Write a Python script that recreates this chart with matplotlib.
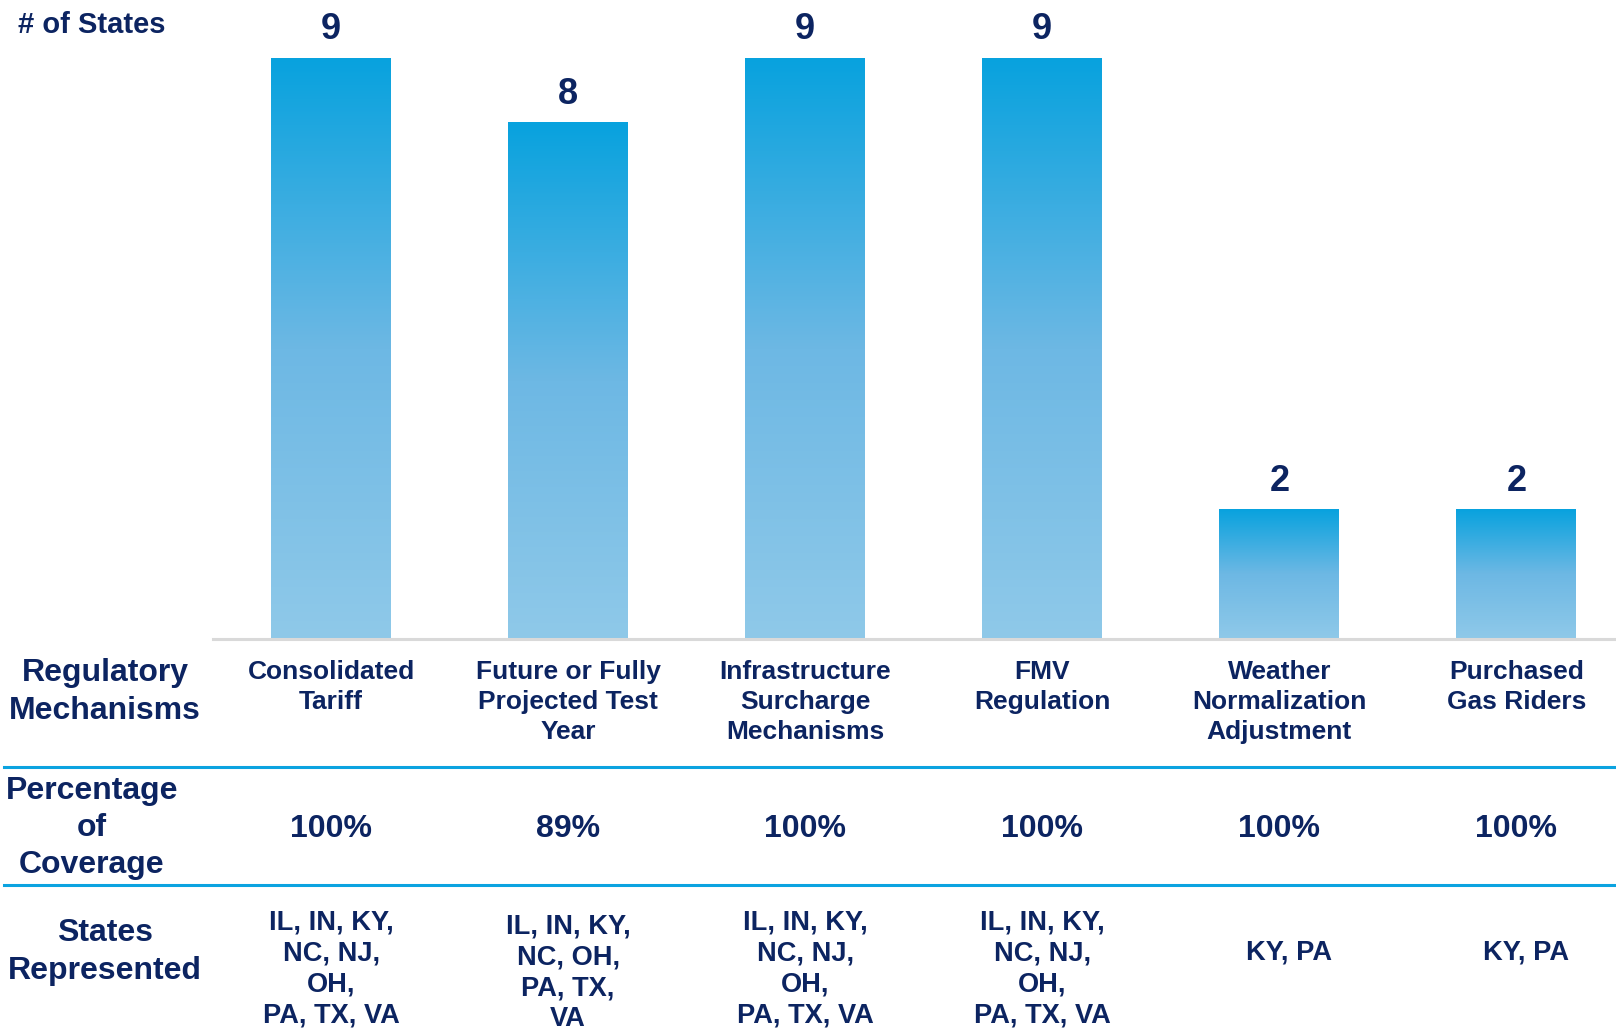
import numpy as np
import matplotlib
matplotlib.use("Agg")
import matplotlib.pyplot as plt
from matplotlib.colors import LinearSegmentedColormap
from matplotlib.lines import Line2D
from matplotlib.transforms import blended_transform_factory

plt.rcParams['font.family'] = ['Liberation Sans', 'DejaVu Sans']
plt.rcParams['font.weight'] = 'bold'

# data
mechanisms = ["Consolidated\nTariff", "Future or Fully\nProjected Test\nYear",
              "Infrastructure\nSurcharge\nMechanisms", "FMV\nRegulation",
              "Weather\nNormalization\nAdjustment", "Purchased\nGas Riders"]
num_states = [9, 8, 9, 9, 2, 2]
coverage = ["100%", "89%", "100%", "100%", "100%", "100%"]
states = ["IL, IN, KY,\nNC, NJ,\nOH,\nPA, TX, VA",
          "IL, IN, KY,\nNC, OH,\nPA, TX,\nVA",
          "IL, IN, KY,\nNC, NJ,\nOH,\nPA, TX, VA",
          "IL, IN, KY,\nNC, NJ,\nOH,\nPA, TX, VA",
          "KY, PA", "KY, PA"]

navy = "#0C2461"
line_blue = "#0BA3E0"
W, H = 1616, 1031

fig = plt.figure(figsize=(W / 100, H / 100), dpi=100)
ax = fig.add_axes([213 / W, 392 / H, (W - 213) / W, 639 / H])

# gradient filled bars
cmap = LinearSegmentedColormap.from_list("bar", ["#8FC9E9", "#6DB8E4", "#08A2DE"])
grad = np.linspace(0, 1, 256).reshape(-1, 1)
x = np.arange(len(num_states))
bw = 0.506
bars = ax.bar(x, num_states, width=bw, color="none")
for b, v in zip(bars, num_states):
    x0 = b.get_x()
    ax.imshow(grad, cmap=cmap, origin="lower", aspect="auto",
              extent=(x0, x0 + bw, 0, v), interpolation="bicubic")
    ax.text(b.get_x() + bw / 2, v + 0.44, str(v), ha="center", va="center",
            fontsize=26, color=navy, fontweight="bold")

ax.set_xlim(-0.498, 5.42)
ax.set_ylim(0, 9.9)
ax.axis("off")
ax.axhline(0, color="#D9D9D9", lw=2.2, clip_on=False)

fig.text(18 / W, 1 - 25 / H, "# of States", ha="left", va="center",
         fontsize=21, color=navy)

# table rows under the bars
tr = blended_transform_factory(ax.transData, fig.transFigure)
states_y = [969, 973, 969, 969, 952, 952]
states_dx = [0, 0, 0, 0, 0.04, 0.04]
for i in range(len(mechanisms)):
    ax.text(i, 1 - 660 / H, mechanisms[i], transform=tr, ha="center", va="top",
            fontsize=19, color=navy, linespacing=1.32)
    ax.text(i, 1 - 829 / H, coverage[i], transform=tr, ha="center", va="center",
            fontsize=23, color=navy)
    ax.text(i + states_dx[i], 1 - states_y[i] / H, states[i], transform=tr, ha="center",
            va="center", fontsize=19.6, color=navy, linespacing=1.25)

fig.text(105 / W, 1 - 692 / H, "Regulatory\nMechanisms", ha="center", va="center",
         fontsize=23, color=navy, linespacing=1.35)
fig.text(92 / W, 1 - 828 / H, "Percentage\nof\nCoverage", ha="center", va="center",
         fontsize=23, color=navy, linespacing=1.29)
fig.text(105 / W, 1 - 952 / H, "States\nRepresented", ha="center", va="center",
         fontsize=23, color=navy, linespacing=1.35)

for yy in [767, 885]:
    fig.add_artist(Line2D([4 / W, 1], [1 - yy / H, 1 - yy / H], color=line_blue, lw=2.2))

fig.savefig("out.png", dpi=100)
